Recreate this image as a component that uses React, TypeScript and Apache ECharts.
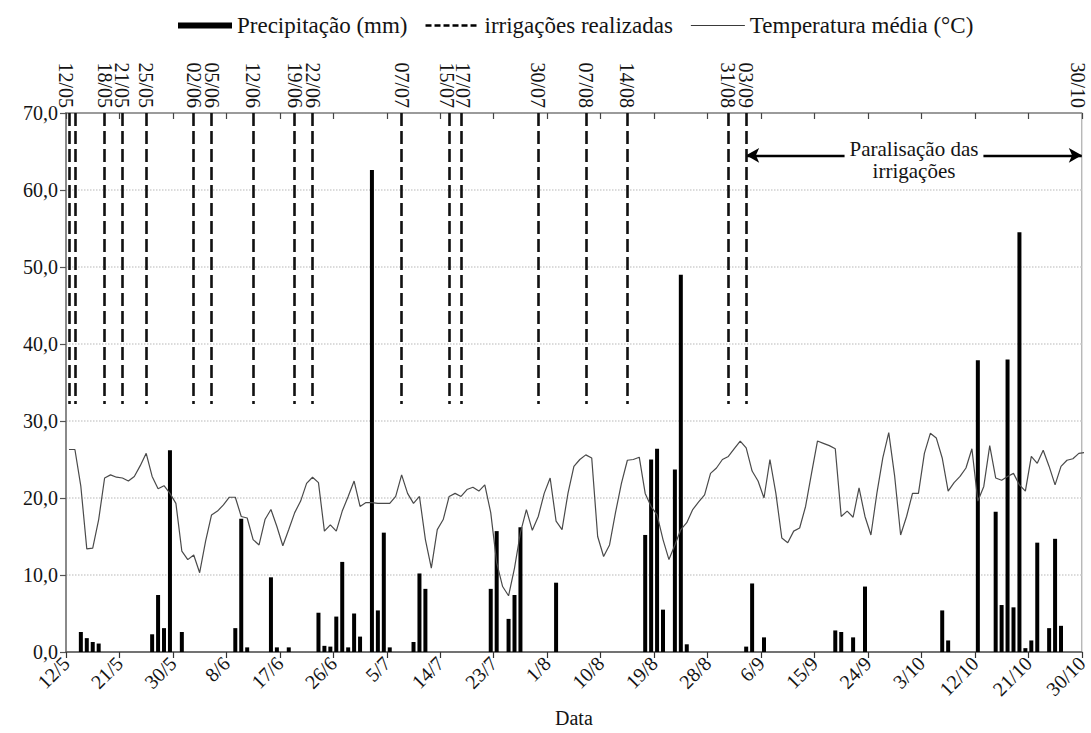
import React, { useEffect, useRef } from "react";
import * as echarts from "echarts";

// ---------- data ----------
// x axis: day index counted from 12/5 (0) to 30/10 (171)
const xTickLabels = [
  "12/5", "21/5", "30/5", "8/6", "17/6", "26/6", "5/7", "14/7", "23/7", "1/8",
  "10/8", "19/8", "28/8", "6/9", "15/9", "24/9", "3/10", "12/10", "21/10", "30/10",
];
const yTickValues = [0, 10, 20, 30, 40, 50, 60, 70];

// Temperatura média (°C), one value per day, 12/5 .. 30/10
const temperatura = [
  26.3, 26.3, 21.5, 13.4, 13.5, 17.2, 22.6, 23.0, 22.7, 22.6,
  22.2, 22.8, 24.2, 25.8, 22.8, 21.2, 21.6, 20.6, 19.3, 13.1,
  12.0, 12.6, 10.3, 14.4, 17.8, 18.3, 19.1, 20.1, 20.1, 17.6,
  17.4, 14.6, 13.9, 17.2, 18.5, 16.3, 13.8, 15.9, 18.1, 19.6,
  21.9, 22.7, 22.0, 15.7, 16.5, 15.7, 18.3, 20.2, 22.2, 18.9,
  19.4, 19.4, 19.3, 19.3, 19.3, 20.2, 23.0, 20.6, 19.3, 20.2,
  14.6, 10.9, 15.9, 17.2, 20.2, 20.6, 20.2, 21.1, 21.4, 20.9,
  21.7, 18.1, 11.6, 8.5, 7.3, 10.9, 15.5, 18.5, 15.8, 17.6,
  20.6, 22.6, 17.0, 15.9, 20.6, 24.1, 25.0, 25.6, 25.2, 15.0,
  12.4, 13.9, 18.1, 21.9, 24.9, 25.0, 25.3, 20.6, 18.9, 17.8,
  14.6, 12.0, 13.9, 15.9, 16.8, 18.5, 19.5, 20.4, 23.2, 23.9,
  25.0, 25.4, 26.4, 27.4, 26.5, 23.5, 22.2, 20.0, 25.0, 20.6,
  14.8, 14.2, 15.7, 16.1, 18.9, 23.2, 27.4, 27.1, 26.8, 26.4,
  17.6, 18.3, 17.5, 21.3, 17.6, 15.2, 20.6, 25.2, 28.5, 22.8,
  15.2, 17.6, 20.6, 20.6, 25.8, 28.4, 27.8, 25.2, 20.9, 22.0,
  22.8, 23.9, 26.4, 19.6, 21.5, 26.8, 22.6, 22.3, 22.8, 23.2,
  21.7, 20.9, 25.4, 24.5, 26.2, 24.1, 21.7, 24.1, 24.9, 25.1,
  25.8, 25.9,
];

// Precipitação (mm): day index and amount, days without rain omitted
const precipDias = [
  2, 3, 4, 5, 14, 15, 16, 17, 19, 28, 29, 30, 34, 35, 37, 42, 43, 44, 45, 46,
  47, 48, 49, 51, 52, 53, 54, 58, 59, 60, 71, 72, 74, 75, 76, 82, 97, 98, 99, 100,
  102, 103, 104, 114, 115, 117, 129, 130, 132, 134, 147, 148, 153, 156, 157, 158, 159, 160, 161, 162,
  163, 165, 166, 167,
];
const precipMm = [
  2.6, 1.8, 1.3, 1.1, 2.3, 7.4, 3.1, 26.2, 2.6, 3.1, 17.3, 0.6, 9.7, 0.6, 0.6, 5.1, 0.8, 0.7, 4.6, 11.7,
  0.6, 5.0, 2.0, 62.6, 5.4, 15.5, 0.6, 1.3, 10.2, 8.2, 8.2, 15.7, 4.3, 7.4, 16.2, 9.0, 15.2, 25.0, 26.4, 5.5,
  23.7, 49.0, 1.0, 0.7, 8.9, 1.9, 2.8, 2.6, 1.9, 8.5, 5.4, 1.5, 37.9, 18.2, 6.1, 38.0, 5.8, 54.5, 0.5, 1.5,
  14.2, 3.1, 14.7, 3.4,
];

// Irrigações realizadas
const irrigDias = [0, 1, 6, 9, 13, 21, 24, 31, 38, 41, 56, 64, 66, 79, 87, 94, 111, 114, 171];
const irrigRotulos = [
  "12/05", "13/05", "18/05", "21/05", "25/05", "02/06", "05/06", "12/06", "19/06", "22/06",
  "07/07", "15/07", "17/07", "30/07", "07/08", "14/08", "31/08", "03/09", "30/10",
];
const irrigTopo = 70;
const irrigBase = 32.2;

// Paralisação das irrigações (03/09 .. 30/10)
const paralisacaoInicio = 114;
const paralisacaoFim = 171;
const paralisacaoNivel = 64.5;
const paralisacaoTextoNivel = 63.9;

// ---------- helpers ----------
const X_MIN = 0;
const X_MAX = 171;
const DAY_CENTER = 0.5; // a day's values sit in the middle of that day

const FONT = "Liberation Serif";
const TEXT = "#141414";

// legend icons (shape only; drawn by the legend)
const ICON_PRECIP = "path://M0,0h0.2v0.01h-0.2z M0,2h54v6h-54z M0,9.99h0.2v0.01h-0.2z";
const ICON_IRRIG =
  "path://M0,0h0.2v0.01h-0.2z M0,3.8h6v2.4h-6z M9,3.8h6v2.4h-6z M18,3.8h6v2.4h-6z M27,3.8h6v2.4h-6z M36,3.8h6v2.4h-6z M45,3.8h6v2.4h-6z M53.8,9.99h0.2v0.01h-0.2z";
const ICON_TEMP = "path://M0,0h0.2v0.01h-0.2z M0,4.5h54v1.1h-54z M0,9.99h0.2v0.01h-0.2z";

function labelPositions(days: number[]): number[] {
  const pos = days.map((d) => d + DAY_CENTER);
  const minGap = 2.6;
  for (let i = 1; i < pos.length; i++) {
    const gap = pos[i] - pos[i - 1];
    if (gap < minGap) {
      const mid = (pos[i] + pos[i - 1]) / 2;
      pos[i - 1] = mid - minGap / 2;
      pos[i] = mid + minGap / 2;
    }
  }
  for (let i = 0; i < pos.length; i++) {
    pos[i] = Math.min(Math.max(pos[i], X_MIN), X_MAX - 0.6);
  }
  for (let i = 1; i < pos.length; i++) {
    if (pos[i] - pos[i - 1] < minGap && pos[i] < X_MAX - 1) pos[i] = pos[i - 1] + minGap;
  }
  return pos;
}

export default function App() {
  const ref = useRef<HTMLDivElement>(null);

  useEffect(() => {
    if (!ref.current) return;
    const chart = echarts.init(ref.current, undefined, { renderer: "svg" });

    const tempData = temperatura.map((v, i) => [i + DAY_CENTER, v]);
    const precipData = precipDias.map((d, i) => [d + DAY_CENTER, precipMm[i]]);
    const irrigComLinha = irrigDias.filter((d) => d < X_MAX);
    const rotPos = labelPositions(irrigDias);

    const option: any = {
      animation: false,
      backgroundColor: "#ffffff",
      textStyle: { fontFamily: FONT },
      legend: {
        top: 9,
        left: 173,
        itemWidth: 54,
        itemHeight: 10,
        itemGap: 18,
        textStyle: { fontFamily: FONT, fontSize: 23, color: TEXT },
        data: [
          { name: "Precipitação (mm)", icon: ICON_PRECIP, itemStyle: { color: "#000" } },
          { name: "irrigações realizadas", icon: ICON_IRRIG, itemStyle: { color: "#000" } },
          { name: "Temperatura média (°C)", icon: ICON_TEMP, itemStyle: { color: "#3a3a3a" } },
        ],
      },
      grid: {
        left: 66,
        right: 4,
        top: 113,
        bottom: 81,
        show: true,
        borderColor: "#9a9a9a",
        borderWidth: 1,
        backgroundColor: "transparent",
      },
      xAxis: [
        {
          type: "value",
          position: "bottom",
          min: X_MIN,
          max: X_MAX,
          interval: 9,
          name: "Data",
          nameLocation: "middle",
          nameGap: 56,
          nameTextStyle: { fontFamily: FONT, fontSize: 20, color: TEXT },
          axisLine: { show: true, onZero: false, lineStyle: { color: "#555", width: 1.5 } },
          axisTick: { show: true, length: 6, lineStyle: { color: "#333", width: 1.2 } },
          axisLabel: {
            rotate: 45,
            margin: 8,
            fontFamily: FONT,
            fontSize: 20,
            color: TEXT,
            formatter: (v: number) => xTickLabels[Math.round(v / 9)] ?? "",
          },
          splitLine: { show: false },
        },
        {
          type: "value",
          position: "top",
          min: X_MIN,
          max: X_MAX,
          interval: 9,
          axisLine: { show: true, onZero: false, lineStyle: { color: "#8a8a8a", width: 1.5 } },
          axisTick: { show: true, inside: true, length: 6, lineStyle: { color: "#444", width: 1.2 } },
          axisLabel: {
            customValues: rotPos,
            rotate: 90,
            margin: 5,
            showMinLabel: true,
            showMaxLabel: true,
            fontFamily: FONT,
            fontSize: 20,
            color: TEXT,
            formatter: (v: number) => {
              for (let i = 0; i < rotPos.length; i++) {
                if (Math.abs(rotPos[i] - v) < 1e-6) return irrigRotulos[i];
              }
              return "";
            },
          },
          splitLine: { show: false },
        },
      ],
      yAxis: {
        type: "value",
        min: yTickValues[0],
        max: yTickValues[yTickValues.length - 1],
        interval: 10,
        axisLine: { show: true, lineStyle: { color: "#8a8a8a", width: 2 } },
        axisTick: { show: true, length: 6, lineStyle: { color: "#555", width: 1.2 } },
        axisLabel: {
          margin: 8,
          fontFamily: FONT,
          fontSize: 20,
          color: TEXT,
          formatter: (v: number) => v.toFixed(1).replace(".", ","),
        },
        splitLine: { show: true, lineStyle: { color: "#cfcfcf", type: "dotted", width: 1.5 } },
      },
      series: [
        {
          name: "Precipitação (mm)",
          type: "bar",
          xAxisIndex: 0,
          yAxisIndex: 0,
          data: precipData,
          barWidth: 4,
          itemStyle: { color: "#000000" },
          z: 2,
          markLine: {
            silent: true,
            symbol: ["arrow", "arrow"],
            symbolSize: [11, 13],
            label: { show: false },
            lineStyle: { color: "#000", width: 2.4, type: "solid" },
            data: [
              [
                { coord: [paralisacaoInicio + DAY_CENTER, paralisacaoNivel] },
                { coord: [paralisacaoFim, paralisacaoNivel] },
              ],
            ],
          },
        },
        {
          name: "irrigações realizadas",
          type: "line",
          xAxisIndex: 0,
          yAxisIndex: 0,
          data: [],
          symbol: "none",
          lineStyle: { color: "#000", width: 2.5, type: [5, 3] },
          itemStyle: { color: "#000" },
          z: 4,
          markLine: {
            silent: true,
            symbol: ["none", "none"],
            label: { show: false },
            lineStyle: { color: "#111", width: 2.6, type: [13, 5] },
            data: irrigComLinha.map((d) => [
              { coord: [d + DAY_CENTER, irrigTopo] },
              { coord: [d + DAY_CENTER, irrigBase] },
            ]),
          },
        },
        {
          name: "Temperatura média (°C)",
          type: "line",
          xAxisIndex: 0,
          yAxisIndex: 0,
          data: tempData,
          symbol: "none",
          lineStyle: { color: "#4a4a4a", width: 1.2 },
          itemStyle: { color: "#4a4a4a" },
          z: 3,
          markPoint: {
            silent: true,
            symbol: "rect",
            symbolSize: [1, 1],
            itemStyle: { color: "rgba(0,0,0,0)" },
            label: {
              show: true,
              position: "inside",
              formatter: "Paralisação das\nirrigações",
              backgroundColor: "#ffffff",
              padding: [0, 5],
              fontFamily: FONT,
              fontSize: 21,
              lineHeight: 22,
              color: TEXT,
            },
            data: [
              {
                coord: [(paralisacaoInicio + DAY_CENTER + paralisacaoFim) / 2, paralisacaoTextoNivel],
              },
            ],
          },
        },
      ],
    };

    chart.setOption(option);
    return () => chart.dispose();
  }, []);

  return (
    <div
      ref={ref}
      style={{ position: "fixed", left: 0, top: 0, width: 1091, height: 733, background: "#fff" }}
    />
  );
}
